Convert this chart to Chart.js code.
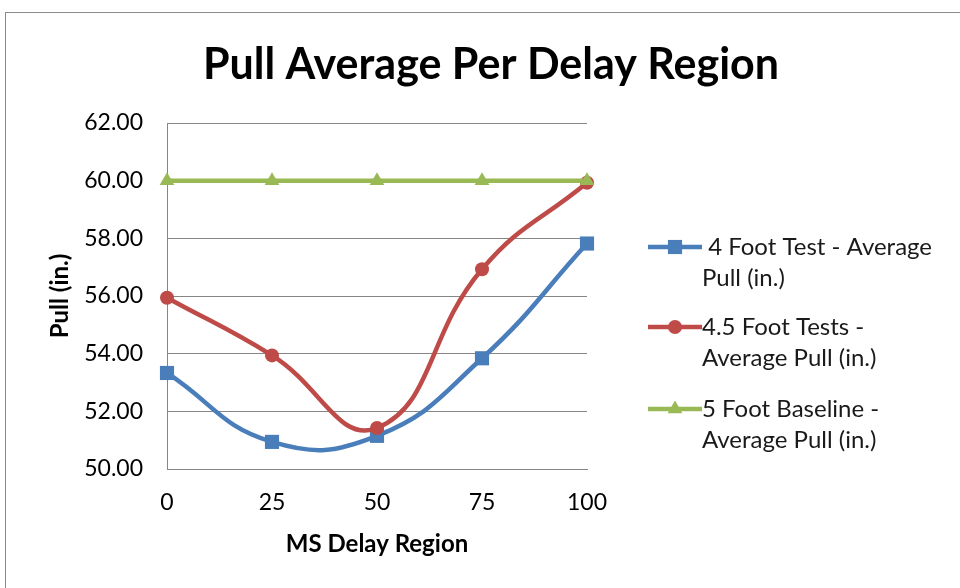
<!DOCTYPE html>
<html>
<head>
<meta charset="utf-8">
<script src="https://cdn.jsdelivr.net/npm/chart.js@4.4.1/dist/chart.umd.min.js"></script>
<style>
    html, body { margin: 0; padding: 0; background: #fff; overflow: hidden; }
    #wrap { position: relative; width: 960px; height: 588px; }
    #frame { position: absolute; left: 5px; top: 12px; width: 1000px; height: 1000px;
             border: 1px solid #8c8c8c; pointer-events: none; }
</style>
</head>
<body>
<div id="wrap">
    <canvas id="chart" width="960" height="588"></canvas>
    <div id="frame"></div>
</div>
<script>
const chartTitle = "Pull Average Per Delay Region";
const xTitle = "MS Delay Region";
const yTitle = "Pull (in.)";

const delayRegions = ["0", "25", "50", "75", "100"];
const fourFootPull = [53.33, 50.94, 51.15, 53.84, 57.82];
const fourHalfFootPull = [55.94, 53.94, 51.42, 56.93, 59.93];
const fiveFootBaseline = [60.0, 60.0, 60.0, 60.0, 60.0];

const seriesNames = [
    " 4 Foot Test - Average Pull (in.)",
    "4.5 Foot Tests - Average Pull (in.)",
    "5 Foot Baseline - Average Pull (in.)",
];
// how the legend text wraps in the reference
const legendLines = [
    [" 4 Foot Test - Average", "Pull (in.)"],
    ["4.5 Foot Tests -", "Average Pull (in.)"],
    ["5 Foot Baseline -", "Average Pull (in.)"],
];

const FONT = "Lato, 'Open Sans', sans-serif";
const BLUE = "#4a7ebb";
const RED = "#be4b48";
const GREEN = "#98b954";

function series(label, data, color, pointStyle, radius, order) {
    return {
        label,
        data,
        borderColor: color,
        backgroundColor: color,
        borderWidth: 4.5,
        pointStyle,
        pointRadius: radius,
        pointBorderWidth: 0,
        pointBackgroundColor: color,
        tension: 0.45,
        clip: false,
        order,
    };
}

// title + wrapped legend, drawn on the canvas like the rest of the chart
const decorations = {
    id: "decorations",
    afterDraw(chart) {
        const ctx = chart.ctx;
        ctx.save();
        ctx.fillStyle = "#000";
        ctx.font = `bold 43px ${FONT}`;
        ctx.textAlign = "center";
        ctx.textBaseline = "alphabetic";
        ctx.fillText(chartTitle, 491, 79);

        const rows = [247, 327, 409];
        const lineGap = 31;
        chart.data.datasets.forEach((ds, i) => {
            const y = rows[i];
            ctx.strokeStyle = ds.borderColor;
            ctx.lineWidth = ds.borderWidth;
            ctx.beginPath();
            ctx.moveTo(648, y);
            ctx.lineTo(702, y);
            ctx.stroke();
            ctx.fillStyle = ds.backgroundColor;
            Chart.helpers.drawPoint(ctx, {
                pointStyle: ds.pointStyle,
                radius: ds.pointRadius,
                borderWidth: 0,
                rotation: 0,
            }, 675, y);

            ctx.fillStyle = "#1a1a1a";
            ctx.font = `24px ${FONT}`;
            ctx.textAlign = "left";
            ctx.textBaseline = "middle";
            legendLines[i].forEach((t, k) => ctx.fillText(t, 702, y + k * lineGap));
        });
        ctx.restore();
    },
};

new Chart(document.getElementById("chart"), {
    type: "line",
    data: {
        labels: delayRegions,
        datasets: [
            series(seriesNames[0], fourFootPull, BLUE, "rect", 10, 3),
            series(seriesNames[1], fourHalfFootPull, RED, "circle", 7, 2),
            series(seriesNames[2], fiveFootBaseline, GREEN, "triangle", 8.5, 1),
        ],
    },
    options: {
        responsive: false,
        animation: false,
        devicePixelRatio: 1,
        layout: { padding: { top: 123, right: 373, bottom: 0, left: 0 } },
        plugins: {
            legend: { display: false },
            title: { display: false },
            tooltip: { enabled: false },
        },
        scales: {
            x: {
                type: "category",
                offset: false,
                grid: { display: false },
                border: { display: true, color: "#868686", width: 1 },
                ticks: { color: "#000", font: { family: FONT, size: 23 }, padding: 12, maxRotation: 0 },
                title: {
                    display: true,
                    text: xTitle,
                    color: "#000",
                    font: { family: FONT, size: 24, weight: "bold" },
                    padding: { top: 0, bottom: 29 },
                },
                afterFit(scale) { scale.height = 119; },
            },
            y: {
                min: 50,
                max: 62,
                grid: { color: "#868686", lineWidth: 1, drawTicks: false },
                border: { display: true, color: "#868686", width: 1 },
                ticks: {
                    stepSize: 2,
                    color: "#000",
                    font: { family: FONT, size: 23 },
                    padding: 24,
                    callback: (v) => Number(v).toFixed(2),
                },
                title: {
                    display: true,
                    text: yTitle,
                    color: "#000",
                    font: { family: FONT, size: 24, weight: "bold" },
                    padding: { top: 46, bottom: 0 },
                },
                afterFit(scale) { scale.width = 167; },
            },
        },
    },
    plugins: [decorations],
});
</script>
</body>
</html>
